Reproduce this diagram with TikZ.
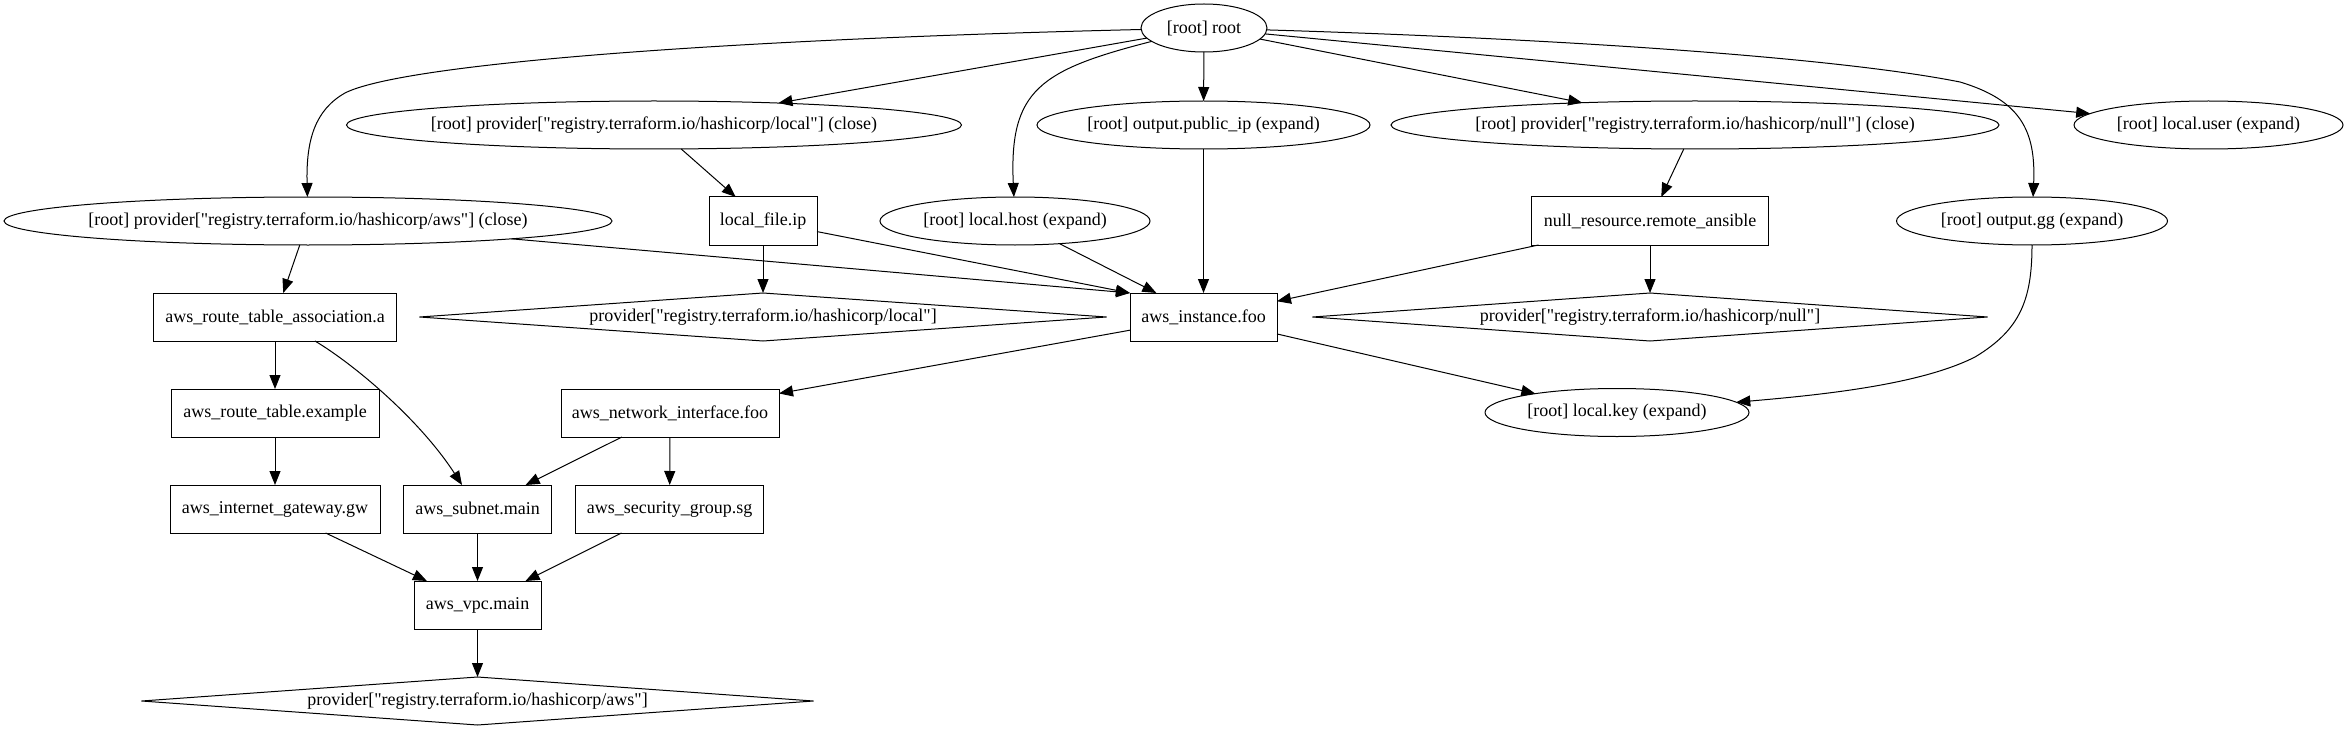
\documentclass[tikz,border=0pt]{standalone}
\usepackage{fontspec}
\setmainfont{Liberation Serif}[Ligatures=TeXOff]
\usetikzlibrary{shapes.geometric,arrows.meta}
\def\pxu{0.75pt}
\newcommand\tflbl[1]{\makebox[0pt]{#1}}
\begin{document}
\begin{tikzpicture}[x=0.75pt,y=-0.75pt,
  nbase/.style={draw,line width=0.75pt,inner sep=0pt,outer sep=0pt,font=\fontsize{13.5pt}{16pt}\selectfont},
  ell/.style={nbase,ellipse,minimum height=48*\pxu,minimum width=#1*\pxu},
  rbox/.style={nbase,rectangle,minimum height=48*\pxu,minimum width=#1*\pxu},
  dia/.style={nbase,diamond,aspect=14,minimum height=48*\pxu,minimum width=#1*\pxu},
  conn/.style={line width=0.75pt,-{Triangle[length=10.5pt,width=8.25pt]}}
]
\useasboundingbox (0,0) rectangle (2348,731);

% rank 0
\node[ell=126] (root) at (1204,28) {\tflbl{[root] root}};
% rank 1
\node[ell=615] (provlocal) at (654,125) {\tflbl{[root] provider["registry.terraform.io/hashicorp/local"] (close)}};
\node[ell=333] (publicip) at (1203.5,125) {\tflbl{[root] output.public\_ip (expand)}};
\node[ell=608] (provnull) at (1695,125) {\tflbl{[root] provider["registry.terraform.io/hashicorp/null"] (close)}};
\node[ell=269] (localuser) at (2208.5,125) {\tflbl{[root] local.user (expand)}};
% rank 2
\node[ell=608] (provaws) at (308,221) {\tflbl{[root] provider["registry.terraform.io/hashicorp/aws"] (close)}};
\node[rbox=108] (localfile) at (763,221) {\tflbl{local\_file.ip}};
\node[ell=270] (localhost) at (1015,221) {\tflbl{[root] local.host (expand)}};
\node[rbox=237] (nullres) at (1650,221) {\tflbl{null\_resource.remote\_ansible}};
\node[ell=271] (outputgg) at (2032,221) {\tflbl{[root] output.gg (expand)}};
% rank 3
\node[rbox=243] (rta) at (275,317) {\tflbl{aws\_route\_table\_association.a}};
\node[dia=687] (dlocal) at (763,317) {\tflbl{provider["registry.terraform.io/hashicorp/local"]}};
\node[rbox=147] (inst) at (1203.5,317) {\tflbl{aws\_instance.foo}};
\node[dia=675] (dnull) at (1650,317) {\tflbl{provider["registry.terraform.io/hashicorp/null"]}};
% rank 4
\node[rbox=208] (rt) at (275,413) {\tflbl{aws\_route\_table.example}};
\node[rbox=218] (ni) at (670,413) {\tflbl{aws\_network\_interface.foo}};
\node[ell=264] (lkey) at (1617,412.5) {\tflbl{[root] local.key (expand)}};
% rank 5
\node[rbox=210] (igw) at (275,509) {\tflbl{aws\_internet\_gateway.gw}};
\node[rbox=148] (subnet) at (477.5,509) {\tflbl{aws\_subnet.main}};
\node[rbox=188] (sg) at (669.6,509) {\tflbl{aws\_security\_group.sg}};
% rank 6
\node[rbox=127] (vpc) at (477.5,605) {\tflbl{aws\_vpc.main}};
% rank 7
\node[dia=672] (daws) at (477.5,701) {\tflbl{provider["registry.terraform.io/hashicorp/aws"]}};

% edges from root
\draw[conn] (root) .. controls (700,40) and (400,65) .. (345,93) .. controls (315,110) and (306,140) .. (provaws);
\draw[conn] (root) -- (provlocal);
\draw[conn] (root) .. controls (1040,70) and (1009,90) .. (localhost);
\draw[conn] (root) -- (publicip);
\draw[conn] (root) -- (provnull);
\draw[conn] (root) -- (localuser);
\draw[conn] (root) .. controls (1600,40) and (1850,60) .. (1960,82) .. controls (2020,100) and (2036,130) .. (outputgg);

\draw[conn] (provlocal) -- (localfile);
\draw[conn] (provaws) -- (rta);
\draw[conn] (provaws) -- (inst.north west);
\draw[conn] (localfile) -- (dlocal);
\draw[conn] (localfile) -- (inst.north west);
\draw[conn] (localhost) -- (inst);
\draw[conn] (publicip) -- (inst);
\draw[conn] (nullres) -- (inst);
\draw[conn] (nullres) -- (dnull);
\draw[conn] (provnull) -- (nullres);

\draw[conn] (inst) -- (ni);
\draw[conn] (inst) -- (lkey);
\draw[conn] (outputgg) .. controls (2032,300) and (2020,330) .. (1975,357) .. controls (1920,385) and (1820,395) .. (lkey);

\draw[conn] (rta) -- (rt);
\draw[conn] (rta) .. controls (355,365) and (420,420) .. (subnet);
\draw[conn] (ni) -- (subnet);
\draw[conn] (ni) -- (sg);
\draw[conn] (rt) -- (igw);
\draw[conn] (igw) -- (vpc);
\draw[conn] (subnet) -- (vpc);
\draw[conn] (sg) -- (vpc);
\draw[conn] (vpc) -- (daws);
\end{tikzpicture}
\end{document}
